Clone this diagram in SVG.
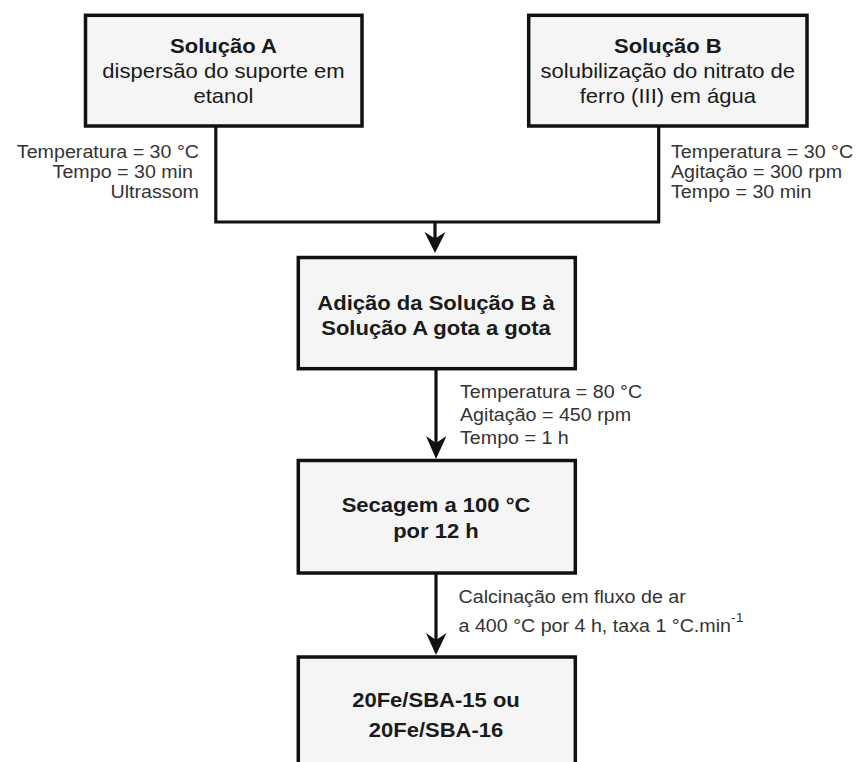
<svg xmlns="http://www.w3.org/2000/svg" width="860" height="762" viewBox="0 0 860 762">
<style>
.box{fill:#f5f5f5;stroke:#111;stroke-width:3.5}
.bt{font-family:"Liberation Sans",Arial,sans-serif;font-size:20.5px;fill:#1a1a1a;text-anchor:middle}
.b{font-weight:bold}
.an{font-family:"Liberation Sans",Arial,sans-serif;font-size:18.3px;fill:#333}
.end{text-anchor:end}
.ln{fill:none;stroke:#111;stroke-width:3.2}
.ah{fill:#111;stroke:none}
</style>
<rect width="860" height="762" fill="#ffffff"/>
<g id="connectors">
<path class="ln" d="M215.8,126 V222 H658.7 V126"/>
<path class="ln" d="M435,222 V242"/>
<path class="ah" d="M435,253 L424.5,232 L435,238.5 L445.5,232 Z"/>
<path class="ln" d="M436,370 V450"/>
<path class="ah" d="M436,459 L426,436 L436,443 L446.5,436 Z"/>
<path class="ln" d="M436,573 V646"/>
<path class="ah" d="M436,655 L426,633 L436,640 L446.5,633 Z"/>
</g>
<g id="solucaoA">
<rect class="box" x="85.5" y="15.3" width="276.5" height="110.7"/>
<text class="bt b" transform="matrix(1.075 0 0 1 223.5 53)">Solução A</text>
<text class="bt" transform="matrix(1.075 0 0 1 223.5 78)">dispersão do suporte em</text>
<text class="bt" transform="matrix(1.075 0 0 1 223.5 103)">etanol</text>
</g>
<g id="solucaoB">
<rect class="box" x="528.7" y="15.3" width="278.3" height="110.7"/>
<text class="bt b" transform="matrix(1.075 0 0 1 667.8 53)">Solução B</text>
<text class="bt" transform="matrix(1.075 0 0 1 667.8 78)">solubilização do nitrato de</text>
<text class="bt" transform="matrix(1.075 0 0 1 667.8 103)">ferro (III) em água</text>
</g>
<g id="condA">
<text class="an end" transform="matrix(1.075 0 0 1 199 157.5)">Temperatura = 30 °C</text>
<text class="an end" transform="matrix(1.075 0 0 1 193 177.5)">Tempo = 30 min</text>
<text class="an end" transform="matrix(1.075 0 0 1 199 197.5)">Ultrassom</text>
</g>
<g id="condB">
<text class="an" transform="matrix(1.075 0 0 1 671 157.5)">Temperatura = 30 °C</text>
<text class="an" transform="matrix(1.075 0 0 1 671 177.5)">Agitação = 300 rpm</text>
<text class="an" transform="matrix(1.075 0 0 1 671 197.5)">Tempo = 30 min</text>
</g>
<g id="adicao">
<rect class="box" x="298.3" y="257.5" width="277" height="111.2"/>
<text class="bt b" transform="matrix(1.075 0 0 1 436 309.5)">Adição da Solução B à</text>
<text class="bt b" transform="matrix(1.075 0 0 1 436 334.5)">Solução A gota a gota</text>
</g>
<g id="condC">
<text class="an" transform="matrix(1.075 0 0 1 460 398)">Temperatura = 80 °C</text>
<text class="an" transform="matrix(1.075 0 0 1 460 421)">Agitação = 450 rpm</text>
<text class="an" transform="matrix(1.075 0 0 1 460 444)">Tempo = 1 h</text>
</g>
<g id="secagem">
<rect class="box" x="298.3" y="460.5" width="277" height="112.5"/>
<text class="bt b" transform="matrix(1.075 0 0 1 436 511.5)">Secagem a 100 °C</text>
<text class="bt b" transform="matrix(1.075 0 0 1 436 538)">por 12 h</text>
</g>
<g id="calcinacao">
<text class="an" transform="matrix(1.075 0 0 1 458.5 603)">Calcinação em fluxo de ar</text>
<text class="an" transform="matrix(1.075 0 0 1 458.5 632)">a 400 °C por 4 h, taxa 1 °C.min<tspan font-size="13" dy="-10">-1</tspan></text>
</g>
<g id="produto">
<rect class="box" x="298.3" y="657" width="277" height="120"/>
<text class="bt b" transform="matrix(1.075 0 0 1 436 706.5)">20Fe/SBA-15 ou</text>
<text class="bt b" transform="matrix(1.075 0 0 1 436 736.5)">20Fe/SBA-16</text>
</g>
</svg>
